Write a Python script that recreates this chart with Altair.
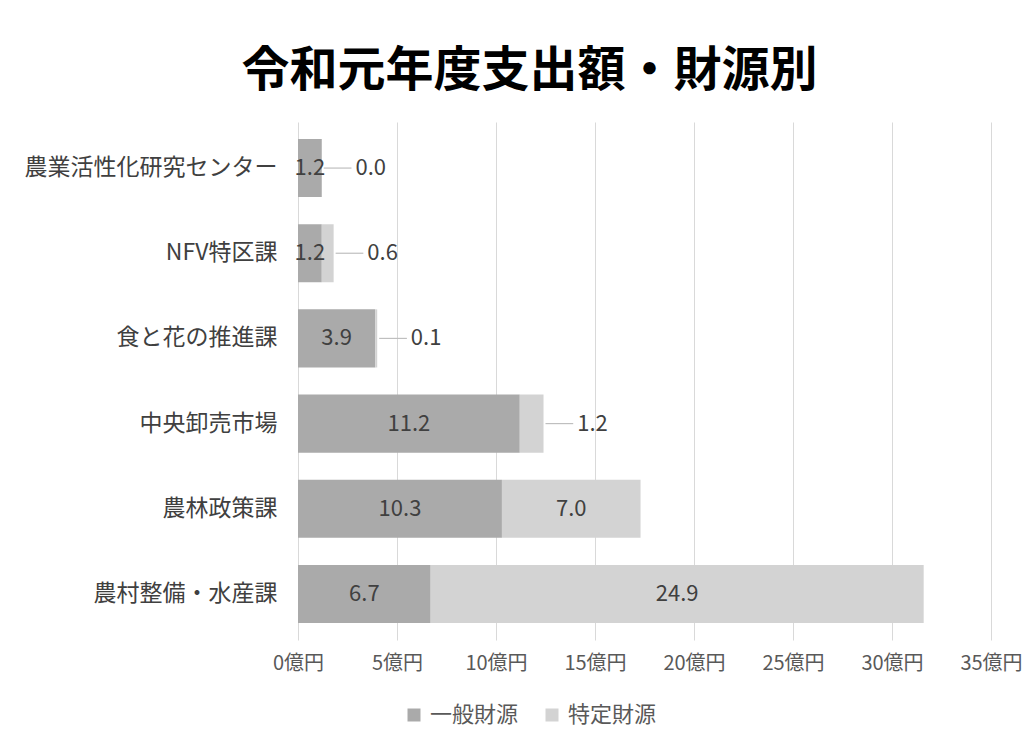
import altair as alt
import pandas as pd

categories = ["農業活性化研究センター", "NFV特区課", "食と花の推進課", "中央卸売市場", "農林政策課", "農村整備・水産課"]
ippan = [1.2, 1.2, 3.9, 11.2, 10.3, 6.7]
tokutei = [0.0, 0.6, 0.1, 1.2, 7.0, 24.9]
series = ["一般財源", "特定財源"]
x_ticks = [0, 5, 10, 15, 20, 25, 30, 35]

FONT = "Noto Sans CJK JP"

rows = []
for c, a, b in zip(categories, ippan, tokutei):
    rows.append({"cat": c, "src": series[0], "val": a, "ord": 0})
    rows.append({"cat": c, "src": series[1], "val": b, "ord": 1})
bars_df = pd.DataFrame(rows)

inside = []
outside = []
for c, a, b in zip(categories, ippan, tokutei):
    inside.append({"cat": c, "x": a / 2, "lab": f"{a:.1f}"})
    if b >= 5:
        inside.append({"cat": c, "x": a + b / 2, "lab": f"{b:.1f}"})
    else:
        t = a + b
        outside.append({"cat": c, "x": t + 0.1, "x2": t + 1.5, "xl": t + 1.7, "lab": f"{b:.1f}"})
in_df = pd.DataFrame(inside)
out_df = pd.DataFrame(outside)

yenc = alt.Y("cat:N", sort=categories, title=None,
             scale=alt.Scale(paddingInner=0.318, paddingOuter=0.2),
             axis=alt.Axis(labelFontSize=23, labelColor="#404040", labelPadding=21,
                           ticks=False, domain=False, grid=False, labelFont=FONT, labelLimit=0))

xscale = alt.Scale(domain=[0, 35], nice=False)

bars = alt.Chart(bars_df).mark_bar().encode(
    y=yenc,
    x=alt.X("val:Q", stack="zero", scale=xscale, title=None,
            axis=alt.Axis(values=x_ticks, labelExpr="datum.value + '億円'", labelFontSize=20,
                          labelColor="#595959", labelPadding=13, ticks=False, domain=False,
                          labelFlush=False, grid=True, gridColor="#d9d9d9", labelFont=FONT)),
    color=alt.Color("src:N", sort=series,
                    scale=alt.Scale(domain=series, range=["#aaaaaa", "#d3d3d3"]),
                    legend=alt.Legend(title=None, orient="none", direction="horizontal",
                                      legendX=105, legendY=582, symbolType="square",
                                      symbolSize=169, labelFontSize=22, labelColor="#595959",
                                      labelOffset=5, columnPadding=22, labelFont=FONT,
                                      symbolStrokeWidth=0)),
    order=alt.Order("ord:Q"),
)

in_text = alt.Chart(in_df).mark_text(fontSize=22, color="#404040", font=FONT).encode(
    y=alt.Y("cat:N", sort=categories),
    x=alt.X("x:Q", scale=xscale),
    text="lab:N",
)

lines = alt.Chart(out_df).mark_rule(color="#bfbfbf", strokeWidth=1.2).encode(
    y=alt.Y("cat:N", sort=categories),
    x=alt.X("x:Q", scale=xscale),
    x2="x2:Q",
)

out_text = alt.Chart(out_df).mark_text(fontSize=22, color="#404040", align="left", font=FONT).encode(
    y=alt.Y("cat:N", sort=categories),
    x=alt.X("xl:Q", scale=xscale),
    text="lab:N",
)

chart = alt.layer(bars, in_text, lines, out_text).properties(
    width=693, height=518,
    background="white",
    autosize=alt.AutoSizeParams(type="none"),
    padding={"left": 290, "top": 114, "right": 32, "bottom": 101},
    title=alt.Title("令和元年度支出額・財源別", fontSize=48, fontWeight="bold", color="#000000",
                    font=FONT, anchor="middle", dx=-115, offset=26),
).configure_view(stroke=None, strokeWidth=0)

chart.save("out.html", embed_options={"renderer": "svg", "actions": False})
